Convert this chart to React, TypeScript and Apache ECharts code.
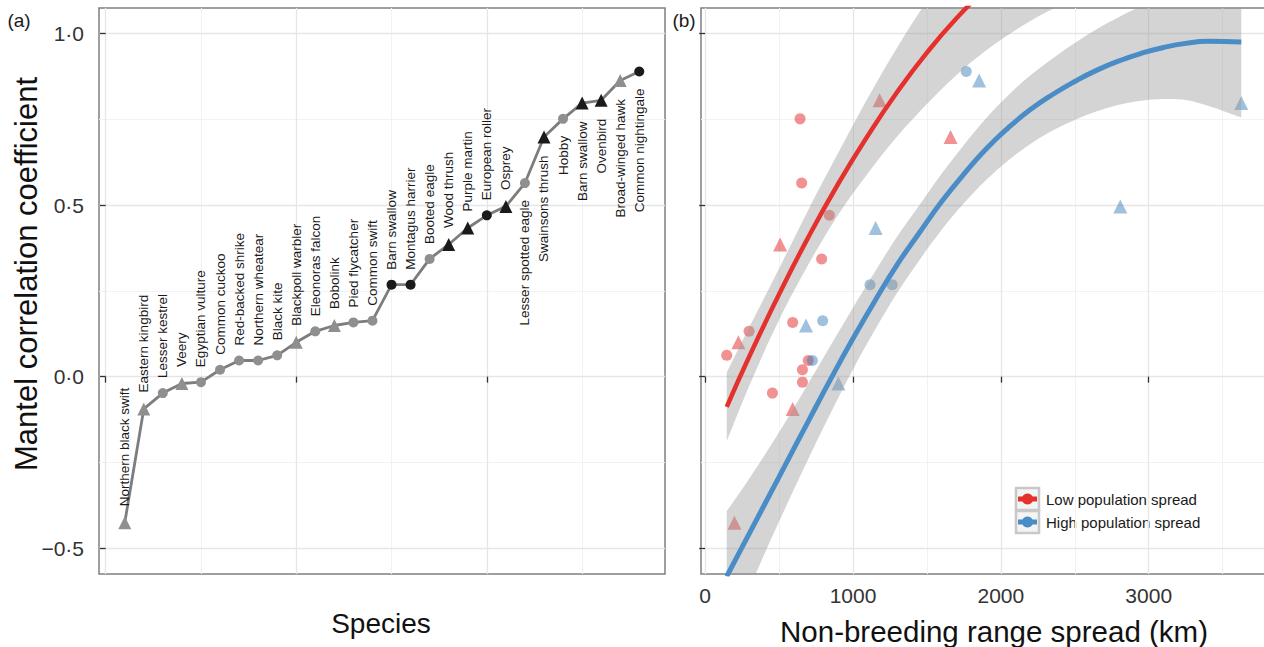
import React, { useEffect, useRef } from 'react';
import * as echarts from 'echarts';

// ---------- data ----------
const species = ['Northern black swift', 'Eastern kingbird', 'Lesser kestrel', 'Veery', 'Egyptian vulture', 'Common cuckoo', 'Red-backed shrike', 'Northern wheatear', 'Black kite', 'Blackpoll warbler', 'Eleonoras falcon', 'Bobolink', 'Pied flycatcher', 'Common swift', 'Barn swallow', 'Montagus harrier', 'Booted eagle', 'Wood thrush', 'Purple martin', 'European roller', 'Osprey', 'Lesser spotted eagle', 'Swainsons thrush', 'Hobby', 'Barn swallow', 'Ovenbird', 'Broad-winged hawk', 'Common nightingale'];
const mantel = [-0.426, -0.094, -0.048, -0.02, -0.016, 0.02, 0.047, 0.047, 0.062, 0.1, 0.132, 0.149, 0.158, 0.163, 0.268, 0.268, 0.343, 0.385, 0.433, 0.47, 0.496, 0.564, 0.698, 0.751, 0.797, 0.805, 0.863, 0.889];
const markerShape = ['triangle', 'triangle', 'circle', 'triangle', 'circle', 'circle', 'circle', 'circle', 'circle', 'triangle', 'circle', 'triangle', 'circle', 'circle', 'circle', 'circle', 'circle', 'triangle', 'triangle', 'circle', 'triangle', 'circle', 'triangle', 'circle', 'triangle', 'triangle', 'triangle', 'circle'];
const markerTone = ['grey', 'grey', 'grey', 'grey', 'grey', 'grey', 'grey', 'grey', 'grey', 'grey', 'grey', 'grey', 'grey', 'grey', 'black', 'black', 'grey', 'black', 'black', 'black', 'black', 'grey', 'black', 'grey', 'black', 'black', 'grey', 'black'];
const rangeSpread = [198, 592, 455, 901, 658, 658, 698, 725, 146, 225, 297, 682, 592, 795, 1115, 1265, 788, 507, 1153, 840, 2808, 653, 1660, 642, 3626, 1180, 1853, 1766];
const popSpread = ['low', 'low', 'low', 'high', 'low', 'low', 'low', 'high', 'low', 'low', 'low', 'high', 'low', 'high', 'high', 'high', 'low', 'low', 'high', 'low', 'high', 'low', 'low', 'low', 'high', 'low', 'high', 'high'];

// fitted curves
const lowFitX = [146, 300, 500, 700, 900, 1100, 1300, 1500, 1700, 1900, 2100, 2300, 2500];
const lowFit = [-0.088, 0.06, 0.24, 0.408, 0.562, 0.702, 0.83, 0.944, 1.044, 1.13, 1.2, 1.26, 1.31];
const lowFitUpper = [0.012, 0.145, 0.315, 0.488, 0.652, 0.812, 0.96, 1.094, 1.209, 1.31, 1.39, 1.46, 1.52];
const lowFitLower = [-0.188, -0.025, 0.165, 0.328, 0.472, 0.592, 0.7, 0.794, 0.879, 0.95, 1.01, 1.06, 1.1];

const highFitX = [146, 300, 500, 700, 858, 1000, 1150, 1300, 1450, 1600, 1750, 1900, 2050, 2200, 2350, 2500, 2650, 2800, 2950, 3100, 3250, 3400, 3626];
const highFit = [-0.582, -0.456, -0.292, -0.128, 0.0, 0.111, 0.222, 0.327, 0.42, 0.51, 0.59, 0.663, 0.725, 0.778, 0.822, 0.86, 0.893, 0.92, 0.942, 0.959, 0.971, 0.977, 0.975];
const highFitUpper = [-0.392, -0.296, -0.162, -0.018, 0.098, 0.201, 0.307, 0.409, 0.5, 0.592, 0.675, 0.753, 0.82, 0.878, 0.927, 0.972, 1.013, 1.048, 1.08, 1.109, 1.136, 1.165, 1.195];
const highFitLower = [-0.772, -0.616, -0.422, -0.238, -0.098, 0.021, 0.137, 0.245, 0.34, 0.428, 0.505, 0.573, 0.63, 0.678, 0.717, 0.748, 0.773, 0.792, 0.804, 0.809, 0.806, 0.789, 0.755];

// axis ticks
const yTicks = [-0.5, 0, 0.5, 1];
const yMinor = [-0.25, 0.25, 0.75];
const aXTicks = [0, 10, 20];
const aXMinor = [5, 15, 25];
const bXTicks = [0, 1000, 2000, 3000];
const bXMinor = [500, 1500, 2500, 3500];

const FONT = '"Liberation Sans", Arial, Helvetica, sans-serif';
const RED = '#e4312d';
const BLUE = '#4a8cc6';
const RIBBON = 'rgba(153,153,153,0.42)';

const fmtY = (v: number) => (v < 0 ? '\u2212' : '') + Math.abs(v).toFixed(1).replace('.', '\u00b7');

function gridLines(idx: number, xMajor: number[], xMinor: number[]) {
  const major = { color: '#e6e6e6', width: 1.3, type: 'solid' };
  const minor = { color: '#f2f2f2', width: 1, type: 'solid' };
  return {
    type: 'line',
    xAxisIndex: idx,
    yAxisIndex: idx,
    data: [],
    z: 0,
    silent: true,
    markLine: {
      z: 0,
      silent: true,
      symbol: ['none', 'none'],
      label: { show: false },
      emphasis: { disabled: true },
      animation: false,
      data: [
        ...xMinor.map((v) => ({ xAxis: v, lineStyle: minor })),
        ...yMinor.map((v) => ({ yAxis: v, lineStyle: minor })),
        ...xMajor.map((v) => ({ xAxis: v, lineStyle: major })),
        ...yTicks.map((v) => ({ yAxis: v, lineStyle: major })),
      ],
    },
  };
}

function ribbon(idx: number, xs: number[], lower: number[], upper: number[]) {
  return {
    type: 'custom',
    xAxisIndex: idx,
    yAxisIndex: idx,
    z: 3,
    silent: true,
    clip: true,
    data: [[xs[0], lower[0]]],
    renderItem: (params: any, api: any) => {
      if (params.dataIndex !== 0) return null;
      const top = xs.map((x, i) => api.coord([x, upper[i]]));
      const bot = xs.map((x, i) => api.coord([x, lower[i]])).reverse();
      const pts = [top[0], ...top, top[top.length - 1], bot[0], ...bot, bot[bot.length - 1]];
      return {
        type: 'polygon',
        shape: { points: pts, smooth: 0.35 },
        style: { fill: RIBBON },
      };
    },
  };
}

const axisTickStyle = { show: true, length: 6, lineStyle: { color: '#333', width: 1.3 } };

export default function App() {
  const ref = useRef<HTMLDivElement>(null);
  useEffect(() => {
    if (!ref.current) return;
    const chart = echarts.init(ref.current, undefined, { renderer: 'svg' });
    const option: any = {
      animation: false,
      textStyle: { fontFamily: FONT },
      grid: [
        { left: 99, top: 8, width: 566, height: 566, show: true, borderColor: '#7f7f7f', borderWidth: 1.5, backgroundColor: 'transparent', outerBoundsMode: 'none', containLabel: false },
        { left: 701, top: 8, width: 566, height: 566, show: true, borderColor: '#7f7f7f', borderWidth: 1.5, backgroundColor: 'transparent', outerBoundsMode: 'none', containLabel: false },
      ],
      xAxis: [
        {
          type: 'value', gridIndex: 0, min: -0.35, max: 29.35,
          splitLine: { show: false }, axisLine: { show: false },
          axisTick: { ...axisTickStyle, customValues: aXTicks },
          axisLabel: { show: false },
        },
        {
          type: 'value', gridIndex: 1, min: -28, max: 3800,
          splitLine: { show: false }, axisLine: { show: false },
          axisTick: { ...axisTickStyle, customValues: bXTicks },
          axisLabel: { show: true, customValues: bXTicks, formatter: (v: number) => String(v), fontSize: 21, color: '#333', margin: 11, fontFamily: FONT },
        },
      ],
      yAxis: [
        {
          type: 'value', gridIndex: 0, min: -0.575, max: 1.074,
          splitLine: { show: false }, axisLine: { show: false },
          axisTick: { ...axisTickStyle, customValues: yTicks },
          axisLabel: { show: true, customValues: yTicks, formatter: fmtY, fontSize: 21, color: '#333', margin: 15, fontFamily: FONT },
        },
        {
          type: 'value', gridIndex: 1, min: -0.575, max: 1.074,
          splitLine: { show: false }, axisLine: { show: false },
          axisTick: { ...axisTickStyle, customValues: yTicks },
          axisLabel: { show: false },
        },
      ],
      series: [
        gridLines(0, aXTicks, aXMinor),
        gridLines(1, bXTicks, bXMinor),
        {
          type: 'line',
          xAxisIndex: 0,
          yAxisIndex: 0,
          z: 4,
          showAllSymbol: true,
          lineStyle: { color: '#7d7d7d', width: 2.8 },
          label: {
            show: true, formatter: '{b}', rotate: 90, fontSize: 13.5, fontFamily: FONT, color: '#1a1a1a', verticalAlign: 'middle',
          },
          data: species.map((s, i) => {
            const below = i >= 21;
            const tri = markerShape[i] === 'triangle';
            return {
              name: s,
              value: [i + 1, mantel[i]],
              symbol: markerShape[i],
              symbolSize: tri ? 13 : 10,
              itemStyle: { color: markerTone[i] === 'black' ? '#1a1a1a' : '#8f8f8f' },
              label: below
                ? { position: 'bottom', distance: 12, align: 'right', verticalAlign: 'middle' }
                : { position: 'top', distance: 10, align: 'left', verticalAlign: 'middle' },
            };
          }),
        },
        {
          type: 'scatter',
          xAxisIndex: 1,
          yAxisIndex: 1,
          z: 2,
          data: rangeSpread.map((x, i) => ({
            value: [x, mantel[i]],
            symbol: markerShape[i],
            symbolSize: markerShape[i] === 'triangle' ? 14 : 11,
            itemStyle: { color: popSpread[i] === 'low' ? 'rgba(228,26,28,0.6)' : 'rgba(55,126,184,0.6)' },
          })),
        },
        ribbon(1, lowFitX, lowFitLower, lowFitUpper),
        ribbon(1, highFitX, highFitLower, highFitUpper),
        {
          type: 'line', xAxisIndex: 1, yAxisIndex: 1, z: 5, smooth: true, symbol: 'none', silent: true,
          lineStyle: { color: RED, width: 4.5 },
          data: lowFitX.map((x, i) => [x, lowFit[i]]),
        },
        {
          type: 'line', xAxisIndex: 1, yAxisIndex: 1, z: 5, smooth: true, symbol: 'none', silent: true,
          lineStyle: { color: BLUE, width: 5 },
          data: highFitX.map((x, i) => [x, highFit[i]]),
        },
      ],
      graphic: [
        { type: 'text', x: 19, y: 20, style: { text: '(a)', font: `19px ${FONT}`, fill: '#1a1a1a', textAlign: 'center', textVerticalAlign: 'middle' } },
        { type: 'text', x: 684, y: 20, style: { text: '(b)', font: `19px ${FONT}`, fill: '#1a1a1a', textAlign: 'center', textVerticalAlign: 'middle' } },
        { type: 'text', x: 381, y: 623, style: { text: 'Species', font: `28px ${FONT}`, fill: '#111', textAlign: 'center', textVerticalAlign: 'middle' } },
        { type: 'text', x: 994, y: 631, style: { text: 'Non-breeding range spread (km)', font: `29.5px ${FONT}`, fill: '#111', textAlign: 'center', textVerticalAlign: 'middle' } },
        { type: 'text', x: 26, y: 274, rotation: Math.PI / 2, style: { text: 'Mantel correlation coefficient', font: `31px ${FONT}`, fill: '#111', textAlign: 'center', textVerticalAlign: 'middle' } },
        // legend
        { type: 'rect', shape: { x: 1016, y: 488, width: 23, height: 22 }, style: { fill: '#f4f4f4', stroke: '#c8c8c8', lineWidth: 2.5 } },
        { type: 'rect', shape: { x: 1016, y: 511, width: 23, height: 22 }, style: { fill: '#f4f4f4', stroke: '#c8c8c8', lineWidth: 2.5 } },
        { type: 'line', shape: { x1: 1018, y1: 499, x2: 1037, y2: 499 }, style: { stroke: RED, lineWidth: 5 } },
        { type: 'circle', shape: { cx: 1027.5, cy: 499, r: 5.5 }, style: { fill: RED } },
        { type: 'line', shape: { x1: 1018, y1: 522, x2: 1037, y2: 522 }, style: { stroke: BLUE, lineWidth: 5 } },
        { type: 'circle', shape: { cx: 1027.5, cy: 522, r: 5.5 }, style: { fill: BLUE } },
        { type: 'text', x: 1046, y: 499, style: { text: 'Low population spread', font: `15px ${FONT}`, fill: '#1a1a1a', textAlign: 'left', textVerticalAlign: 'middle' } },
        { type: 'text', x: 1046, y: 522, style: { text: 'High population spread', font: `15px ${FONT}`, fill: '#1a1a1a', textAlign: 'left', textVerticalAlign: 'middle' } },
      ],
    };
    chart.setOption(option);
    return () => chart.dispose();
  }, []);
  return <div ref={ref} style={{ position: 'absolute', left: 0, top: 0, width: 1264, height: 647, background: '#fff' }} />;
}
